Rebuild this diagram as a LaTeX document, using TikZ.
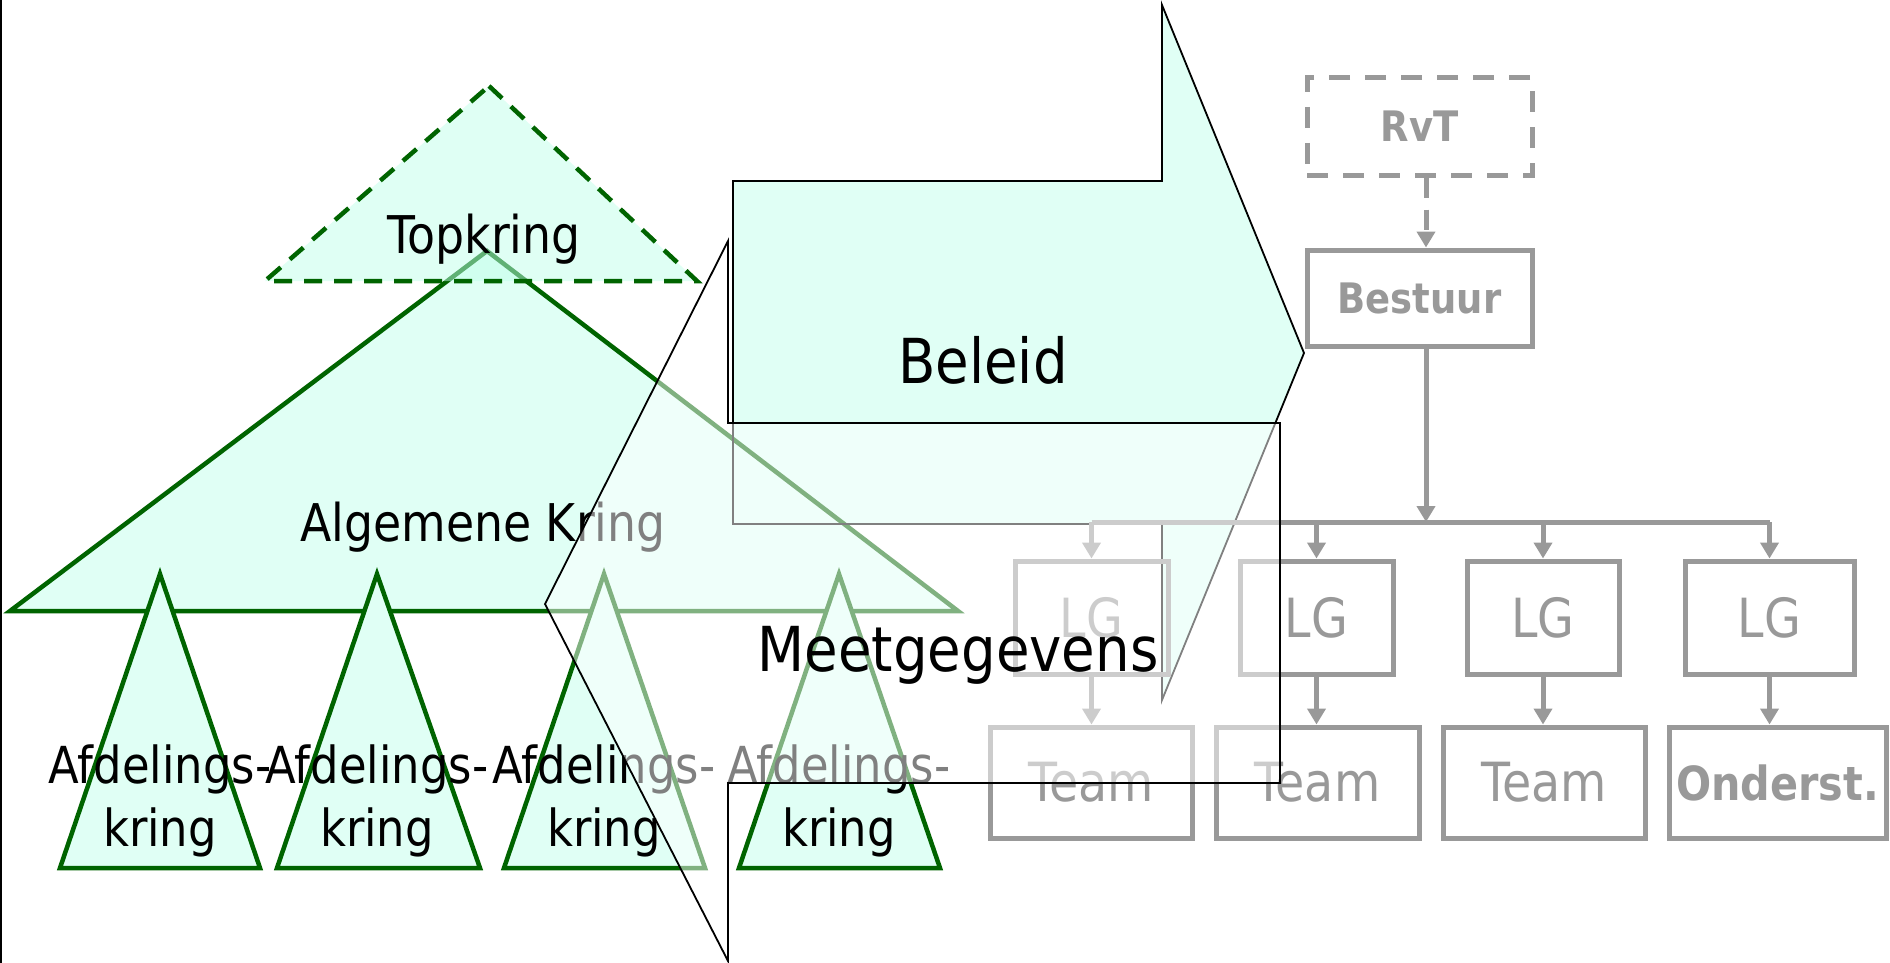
\documentclass[tikz,border=0pt]{standalone}
\usepackage{fontspec}
\newfontfamily\tah[FakeStretch=0.88]{DejaVu Sans}
\usetikzlibrary{arrows.meta}
\definecolor{mint}{RGB}{224,255,245}
\definecolor{mintdeep}{RGB}{193,255,235}
\definecolor{dgreen}{RGB}{0,100,0}
\definecolor{orgray}{RGB}{153,153,153}
\begin{document}
\begin{tikzpicture}[x=1pt,y=-1pt,
  tri/.style={draw=dgreen, line width=4.5pt, fill=mint, line join=miter},
  lbl/.style={font=\tah\fontsize{51}{64}\selectfont, inner sep=0pt},
  mid/.style={font=\tah\fontsize{52}{64}\selectfont, inner sep=0pt},
  big/.style={font=\tah\fontsize{62}{74}\selectfont, inner sep=0pt},
  outl/.style={draw=black, line width=1.8pt, line join=miter},
  box/.style={draw=orgray, line width=5pt, inner sep=0pt},
  olbl/.style={text=orgray, font=\tah\fontsize{54}{60}\selectfont},
  obold/.style={text=orgray, font=\tah\bfseries\fontsize{42}{50}\selectfont},
  oboldb/.style={text=orgray, font=\tah\bfseries\fontsize{47}{55}\selectfont},
  oline/.style={draw=orgray, line width=5pt},
  oarr/.style={draw=orgray, line width=5pt, -{Triangle[length=16pt,width=18pt]}},
  dashbox/.style={dash pattern=on 21pt off 15pt},
]
\useasboundingbox (0,0) rectangle (1890,963);
\fill[white] (0,0) rectangle (1890,963);
\draw[line width=2pt] (1,0) -- (1,963);
% Beleid arrow fill
\fill[mint] (733,181) -- (1162,181) -- (1162,5) -- (1304,353) -- (1162,700) -- (1162,524) -- (733,524) -- cycle;
% Algemene Kring
\draw[tri] (487,251) -- (958,611) -- (10,611) -- cycle;
% Topkring
\draw[tri, fill=mintdeep, fill opacity=0.5, dash pattern=on 18pt off 12pt] (489,86) -- (697,281) -- (265,281) -- cycle;
% Afdelingskringen
\draw[tri] (160,574) -- (260,868) -- (60,868) -- cycle;
\draw[tri] (377,574) -- (480,868) -- (277,868) -- cycle;
\draw[tri] (604,574) -- (705,868) -- (504,868) -- cycle;
\draw[tri] (839,574) -- (940,868) -- (739,868) -- cycle;
\node[mid, anchor=base] (topt) at (484,253) {Topkring};
\node[mid, anchor=base] (algt) at (483,541) {Algemene Kring};
\node[lbl, anchor=base] (a1a) at (160,783) {Afdelings-};
\node[lbl, anchor=base] (a1b) at (160,846) {kring};
\node[lbl, anchor=base] (a2a) at (377,783) {Afdelings-};
\node[lbl, anchor=base] (a2b) at (377,846) {kring};
\node[lbl, anchor=base] (a3a) at (604,783) {Afdelings-};
\node[lbl, anchor=base] (a3b) at (604,846) {kring};
\node[lbl, anchor=base] (a4a) at (839,783) {Afdelings-};
\node[lbl, anchor=base] (a4b) at (839,846) {kring};
% Beleid outline and text
\draw[outl] (733,181) -- (1162,181) -- (1162,5) -- (1304,353) -- (1162,700) -- (1162,524) -- (733,524) -- cycle;
\node[big, anchor=base] (belt) at (983,383) {Beleid};
% organisation chart
\node[box, dashbox, obold, minimum width=225pt, minimum height=97pt] (rvt) at (1419.5,126.5) {RvT};
\node[box, obold, minimum width=225pt, minimum height=96pt] (best) at (1419.5,298) {Bestuur};
\coordinate (busL) at (1091.5,522);
\coordinate (busR) at (1769.5,522);
\coordinate (busM) at (1426,522);
\draw[oarr, dash pattern=on 20pt off 12pt] ([xshift=6.5pt]rvt.south) -- ([xshift=6.5pt]best.north);
\draw[oarr] ([xshift=6.5pt]best.south) -- (busM);
\draw[oline] (busL) -- (busR);
\node[box, olbl, minimum width=153pt, minimum height=113pt] (lg1) at (1091.5,617.5) {LG};
\node[box, olbl, minimum width=153pt, minimum height=113pt] (lg2) at (1316.5,617.5) {LG};
\node[box, olbl, minimum width=152pt, minimum height=113pt] (lg3) at (1543,617.5) {LG};
\node[box, olbl, minimum width=169pt, minimum height=113pt] (lg4) at (1769.5,617.5) {LG};
\node[box, olbl, minimum width=202pt, minimum height=111pt] (t1) at (1091,782.5) {Team};
\node[box, olbl, minimum width=203pt, minimum height=111pt] (t2) at (1317.5,782.5) {Team};
\node[box, olbl, minimum width=202pt, minimum height=111pt] (t3) at (1544,782.5) {Team};
\node[box, oboldb, minimum width=217pt, minimum height=111pt] (t4) at (1777.5,782.5) {Onderst.};
\draw[oarr] (lg1.north |- busL) -- (lg1.north);
\draw[oarr] (lg2.north |- busL) -- (lg2.north);
\draw[oarr] (lg3.north |- busL) -- (lg3.north);
\draw[oarr] (lg4.north |- busL) -- (lg4.north);
\draw[oarr] (lg1.south) -- (lg1.south |- t1.north);
\draw[oarr] (lg2.south) -- (lg2.south |- t2.north);
\draw[oarr] (lg3.south) -- (lg3.south |- t3.north);
\draw[oarr] (lg4.south) -- (lg4.south |- t4.north);
% Meetgegevens arrow (translucent white overlay)
\draw[outl, fill=white, fill opacity=0.5] (1280,423) -- (728,423) -- (728,241) -- (545,604) -- (728,961) -- (728,783) -- (1280,783) -- cycle;
\node[big, anchor=base] (meet) at (958,671) {Meetgegevens};
\end{tikzpicture}
\end{document}
